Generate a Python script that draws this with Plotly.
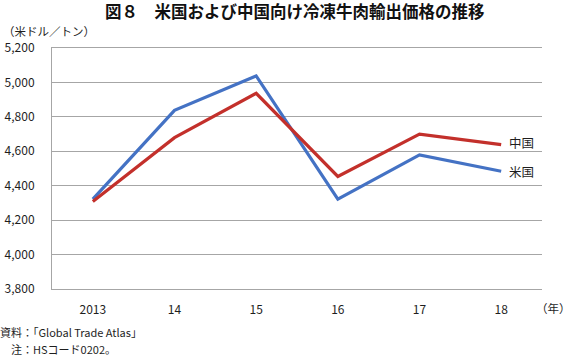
import plotly.graph_objects as go

years = ["2013", "14", "15", "16", "17", "18"]
us_price = [4322, 4838, 5038, 4322, 4579, 4484]
cn_price = [4308, 4679, 4937, 4454, 4700, 4639]
y_ticks = [3800, 4000, 4200, 4400, 4600, 4800, 5000, 5200]

FONT = "Noto Sans CJK JP"
BLUE = "#4472C4"
RED = "#C3302B"
GRID = "#A6A6A6"
TXT = "#1E1E1E"

fig = go.Figure()
fig.add_trace(go.Scatter(x=years, y=us_price, mode="lines", name="米国",
                         line=dict(color=BLUE, width=3.2)))
fig.add_trace(go.Scatter(x=years, y=cn_price, mode="lines", name="中国",
                         line=dict(color=RED, width=3.2)))

fig.update_layout(
    width=572, height=357,
    margin=dict(l=52, r=30, t=48, b=68, autoexpand=False),
    paper_bgcolor="white", plot_bgcolor="white",
    showlegend=False,
    font=dict(family=FONT, size=12, color=TXT),
)
fig.update_xaxes(
    type="category", range=[-0.5, 5.5], automargin=False,
    showgrid=False, showline=True, mirror=True, linecolor=GRID, linewidth=1,
    ticks="", ticklabelstandoff=10,
    tickfont=dict(family=FONT, size=12, color=TXT),
)
fig.update_yaxes(
    range=[3800, 5200], tickvals=y_ticks, tickformat=",", automargin=False,
    showgrid=True, gridcolor=GRID, gridwidth=1,
    showline=True, linecolor=GRID, linewidth=1, zeroline=False,
    ticks="", ticklabelstandoff=14,
    tickfont=dict(family=FONT, size=12, color=TXT),
)

# title
fig.add_annotation(text="<b>図８　米国および中国向け冷凍牛肉輸出価格の推移</b>",
                   xref="paper", yref="paper", x=0.496, y=1.0, xanchor="center", yanchor="middle",
                   yshift=48 - 11, showarrow=False,
                   font=dict(family=FONT, size=16.5, color="#111111"))
# unit
fig.add_annotation(text="（米ドル／トン）", xref="paper", yref="paper",
                   x=0, y=1, xanchor="left", yanchor="middle",
                   xshift=-52 + 2, yshift=48 - 31, showarrow=False, borderpad=0,
                   font=dict(family=FONT, size=11.5, color=TXT))
# year unit
fig.add_annotation(text="（年）", xref="paper", yref="paper",
                   x=1, y=0, xanchor="right", yanchor="middle",
                   xshift=30, yshift=-(307.5 - 289), showarrow=False, borderpad=0,
                   font=dict(family=FONT, size=11.5, color=TXT))
# series labels
fig.add_annotation(text="中国", x=5, y=cn_price[-1], xanchor="left", yanchor="middle",
                   xshift=6, yshift=2, showarrow=False,
                   font=dict(family=FONT, size=12.5, color=TXT))
fig.add_annotation(text="米国", x=5, y=us_price[-1], xanchor="left", yanchor="middle",
                   xshift=6, yshift=0, showarrow=False,
                   font=dict(family=FONT, size=12.5, color=TXT))
# notes
fig.add_annotation(text="資料：「Global Trade Atlas」", xref="paper", yref="paper",
                   x=0, y=0, xanchor="left", yanchor="middle",
                   xshift=-52 - 1, yshift=-(331.5 - 289), showarrow=False, borderpad=0,
                   font=dict(family=FONT, size=11, color=TXT))
fig.add_annotation(text="注：HSコード0202。", xref="paper", yref="paper",
                   x=0, y=0, xanchor="left", yanchor="middle",
                   xshift=-52 + 10, yshift=-(348.5 - 289), showarrow=False, borderpad=0,
                   font=dict(family=FONT, size=11, color=TXT))

fig.write_html("out.html",
               config={"displayModeBar": False, "staticPlot": True},
               post_script="document.body.style.margin='0';document.body.style.padding='0';")
